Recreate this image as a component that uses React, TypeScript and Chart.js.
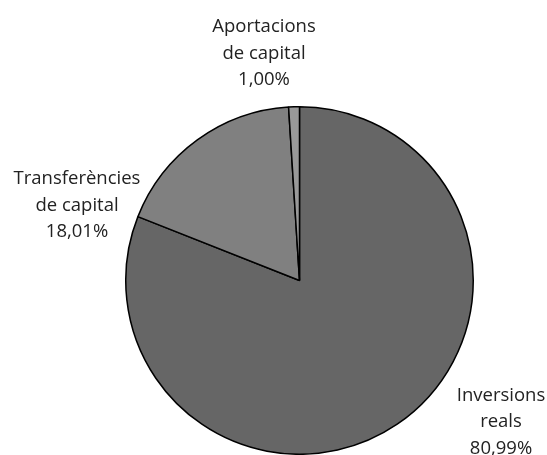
import React, { useEffect, useRef } from "react";
import { Chart, registerables } from "chart.js";

Chart.register(...registerables);

// Capital spending breakdown (percent of total)
const categories = ["Inversions reals", "Transferències de capital", "Aportacions de capital"];
const labelLines = [
  ["Inversions", "reals"],
  ["Transferències", "de capital"],
  ["Aportacions", "de capital"],
];
const shares = [80.99, 18.01, 1.0];
const sliceColors = ["#666666", "#808080", "#999999"];

// Where each label block sits, as an offset from the pie centre (middle of block)
const labelOffsets = [
  { dx: 201.5, dy: 141.5 },
  { dx: -222.5, dy: -75 },
  { dx: -35.5, dy: -227 },
];

const FONT = '400 18.5px "Open Sans", "Noto Sans", sans-serif';
const LINE_H = 26.5;

const formatPct = (v: number) => v.toFixed(2).replace(".", ",") + "%";

const labelPlugin = {
  id: "sliceLabels",
  afterDraw(chart: any) {
    const arc = chart.getDatasetMeta(0).data[0];
    if (!arc) return;
    const { x: cx, y: cy } = arc.getProps(["x", "y"], true);
    const ctx = chart.ctx;
    ctx.save();
    ctx.font = FONT;
    ctx.fillStyle = "#222222";
    ctx.textAlign = "center";
    ctx.textBaseline = "middle";
    categories.forEach((_, i) => {
      const lines = [...labelLines[i], formatPct(shares[i])];
      const { dx, dy } = labelOffsets[i];
      const top = cy + dy - ((lines.length - 1) * LINE_H) / 2;
      lines.forEach((t, j) => ctx.fillText(t, cx + dx, top + j * LINE_H));
    });
    ctx.restore();
  },
};

export default function App() {
  const ref = useRef<HTMLCanvasElement | null>(null);

  useEffect(() => {
    document.body.style.margin = "0";
    if (!ref.current) return;
    const chart = new Chart(ref.current, {
      type: "pie",
      data: {
        labels: categories,
        datasets: [
          {
            data: shares,
            backgroundColor: sliceColors,
            borderColor: "#000000",
            borderWidth: 1.5,
          },
        ],
      },
      options: {
        animation: false,
        responsive: false,
        maintainAspectRatio: false,
        layout: { padding: { left: 125, right: 73, top: 106, bottom: 0 } },
        plugins: {
          legend: { display: false },
          tooltip: { enabled: false },
        },
      },
      plugins: [labelPlugin],
    });
    return () => chart.destroy();
  }, []);

  return (
    <div style={{ width: 547, height: 455, background: "#ffffff" }}>
      <canvas ref={ref} width={547} height={455} />
    </div>
  );
}
